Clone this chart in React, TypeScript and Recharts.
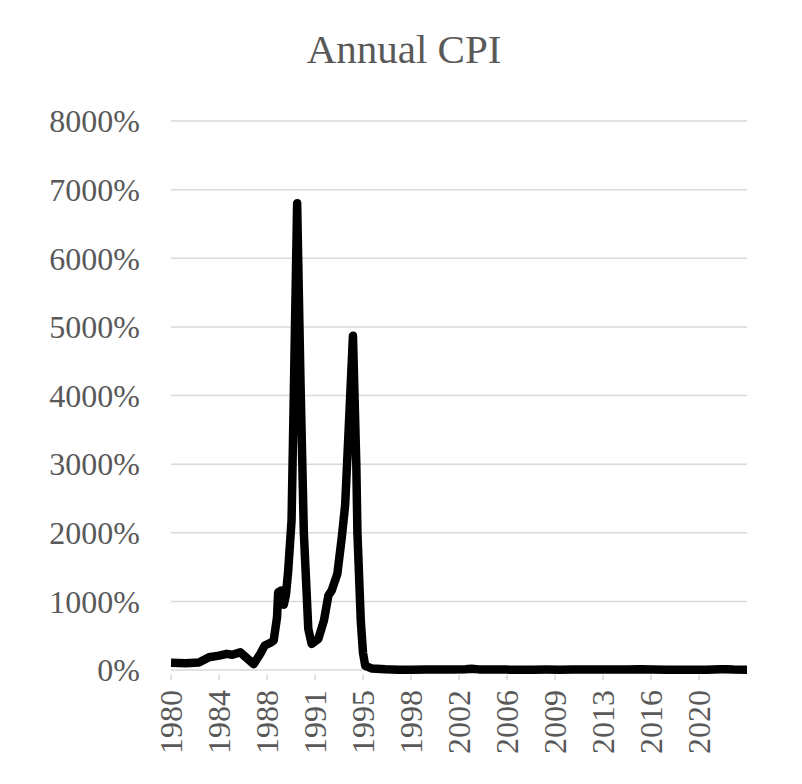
import React from 'react';
import { LineChart, Line, XAxis, YAxis, CartesianGrid } from 'recharts';

// month index counted from Dec 1980, CPI year-on-year in percent
const months = [
    0, 13, 25, 34, 43, 50, 55, 62, 74, 80, 84, 90, 92, 95, 96, 99, 101, 103, 105, 108,
    110, 113, 116, 119, 123, 126, 132, 137, 141, 144, 149, 153, 156, 160, 163, 166, 167,
    170, 172, 174, 180, 192, 204, 216, 228, 240, 252, 264, 269, 276, 288, 300, 312, 324,
    336, 348, 360, 372, 384, 396, 408, 420, 432, 444, 456, 468, 480, 492, 496, 504, 516,
];
const cpi = [
    105, 100, 110, 185, 210, 235, 222, 258, 85, 236, 357, 405, 430, 770, 1130, 1160, 950, 1100, 1450, 2180,
    4000, 6800, 4200, 2000, 600, 380, 455, 720, 1085, 1160, 1400, 1935, 2400, 3800, 4870, 3000, 2000,
    720, 250, 60, 22, 10, 5, 2, 9, 6, 8, 12.5, 17, 9, 7.6, 5.7, 3.1, 4.5,
    5.9, 4.3, 5.9, 6.5, 5.8, 5.9, 6.4, 10.7, 6.3, 2.9, 3.7, 4.3, 4.5, 10.1, 12.1, 5.8, 4.6,
];

const tickMonths = [0, 43, 86, 129, 172, 215, 258, 301, 344, 387, 430, 473];
const tickYears = ['1980', '1984', '1988', '1991', '1995', '1998', '2002', '2006', '2009', '2013', '2016', '2020'];
const yTicks = [0, 1000, 2000, 3000, 4000, 5000, 6000, 7000, 8000];

const data = months.map((m, i) => ({ m, cpi: cpi[i] }));

const FONT = '"Liberation Serif", "Times New Roman", serif';
const GREY = '#595959';

// axis is drawn above the series, so the tick mark starts below the thick line
const YearTick = (props: any) => {
    const { x, y, payload } = props;
    const idx = tickMonths.indexOf(payload.value);
    return (
        <g>
            <line x1={x} x2={x} y1={y - 15} y2={y - 10} stroke="#d9d9d9" strokeWidth={1.5} />
            <text
                x={0}
                y={0}
                transform={`translate(${x},${y}) rotate(-90)`}
                textAnchor="end"
                dominantBaseline="central"
                fill={GREY}
                fontSize={32}
                fontFamily={FONT}
            >
                {idx >= 0 ? tickYears[idx] : ''}
            </text>
        </g>
    );
};

export default function App() {
    return (
        <div style={{ position: 'absolute', left: 0, top: 0, width: 802, height: 784, background: '#fff' }}>
            <div
                style={{
                    position: 'absolute',
                    top: 29,
                    left: 0,
                    width: 808,
                    textAlign: 'center',
                    fontFamily: FONT,
                    fontSize: 41,
                    lineHeight: '40px',
                    color: GREY,
                }}
            >
                Annual CPI
            </div>
            <LineChart
                width={802}
                height={784}
                data={data}
                margin={{ top: 121, right: 55, left: 0, bottom: 14 }}
            >
                <CartesianGrid vertical={false} stroke="#d9d9d9" strokeWidth={1.5} />
                <XAxis
                    dataKey="m"
                    type="number"
                    domain={[0, 516]}
                    ticks={tickMonths}
                    interval={0}
                    height={100}
                    tickSize={0}
                    tickMargin={20}
                    axisLine={false}
                    tickLine={false}
                    tick={<YearTick />}
                />
                <YAxis
                    domain={[0, 8000]}
                    ticks={yTicks}
                    width={171}
                    axisLine={false}
                    tickLine={false}
                    tickSize={6}
                    tickMargin={25}
                    tickFormatter={(v) => `${v}%`}
                    tick={{ fill: GREY, fontSize: 32, fontFamily: FONT }}
                />
                <Line
                    type="linear"
                    dataKey="cpi"
                    stroke="#000"
                    strokeWidth={8.5}
                    strokeLinejoin="round"
                    strokeLinecap="butt"
                    dot={false}
                    isAnimationActive={false}
                />
            </LineChart>
        </div>
    );
}
